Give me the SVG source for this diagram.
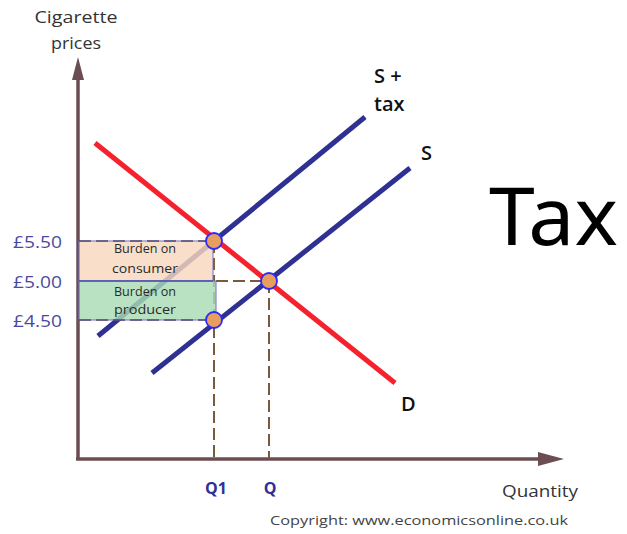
<svg xmlns="http://www.w3.org/2000/svg" width="627" height="534" viewBox="0 0 627 534">
<defs>
<style>
.axis{stroke:#6b4e52;stroke-width:3.5;fill:none}
.dash{stroke:#7a5a3a;stroke-width:2;stroke-dasharray:12,5;fill:none}
.supply{stroke:#2e3192;stroke-width:5;stroke-linecap:butt;fill:none}
.demand{stroke:#f5222d;stroke-width:5;fill:none}
.pt{fill:#e89e5c;stroke:#2a2aff;stroke-width:1.8}
.lbl{font-family:"Open Sans","Noto Sans",sans-serif;fill:#333}
.price{font-family:"Open Sans","Noto Sans",sans-serif;font-size:16.5px;fill:#4a4aa0}
.q{font-family:"Open Sans","Noto Sans",sans-serif;font-size:16px;font-weight:bold;fill:#2e3192}
.curve{font-family:"Open Sans","Noto Sans",sans-serif;font-size:20px;font-weight:600;fill:#111}
.box{font-family:"Open Sans","Noto Sans",sans-serif;font-size:12px;fill:#2a2a2a;text-anchor:middle}
</style>
</defs>
<rect width="627" height="534" fill="#fff"/>
<g id="axes">
<path class="axis" d="M78,459 L78,75"/>
<path d="M72,80 L78,57 L84,80 Z" fill="#6b4e52"/>
<path class="axis" d="M76,459 L545,459"/>
<path d="M538,452 L564,459 L538,466 Z" fill="#6b4e52"/>
<text class="lbl" x="76" y="23" font-size="17" text-anchor="middle" textLength="83" lengthAdjust="spacingAndGlyphs">Cigarette</text>
<text class="lbl" x="76" y="49" font-size="17" text-anchor="middle" textLength="50" lengthAdjust="spacingAndGlyphs">prices</text>
<text class="lbl" x="502" y="497" font-size="17" textLength="76" lengthAdjust="spacingAndGlyphs">Quantity</text>
<text x="270" y="525" font-family="Open Sans, Noto Sans, sans-serif" font-size="13" fill="#444" textLength="298" lengthAdjust="spacingAndGlyphs">Copyright: www.economicsonline.co.uk</text>
</g>
<g id="connectors">
<line class="demand" x1="95" y1="143" x2="395" y2="383"/>
<line class="supply" x1="98" y1="336" x2="365" y2="117"/>
<line class="supply" x1="152" y1="373" x2="410" y2="168"/>
<line class="dash" x1="214" y1="241" x2="214" y2="458"/>
<line class="dash" x1="269" y1="281" x2="269" y2="458"/>
<line class="dash" x1="216" y1="281" x2="269" y2="281"/>
</g>
<g id="burden-consumer">
<rect x="79" y="241" width="134" height="40" fill="#f8d8bd" fill-opacity="0.82" stroke="#6f6fc8" stroke-width="1"/>
<line x1="79" y1="241" x2="213" y2="241" stroke="#554a77" stroke-width="1.3" stroke-dasharray="12,5"/>
<text class="box" x="145" y="253" textLength="62" lengthAdjust="spacingAndGlyphs">Burden on</text>
<text class="box" x="145" y="273" font-size="13" textLength="66" lengthAdjust="spacingAndGlyphs">consumer</text>
</g>
<g id="burden-producer">
<rect x="79" y="281" width="137" height="39" fill="#a8dcb4" fill-opacity="0.82" stroke="#6f6fc8" stroke-width="1"/>
<line x1="79" y1="320" x2="216" y2="320" stroke="#554a77" stroke-width="1.3" stroke-dasharray="12,5"/>
<line x1="79" y1="281" x2="213" y2="281" stroke="#5050b0" stroke-width="1.5"/>
<text class="box" x="145" y="296" textLength="62" lengthAdjust="spacingAndGlyphs">Burden on</text>
<text class="box" x="145" y="314" font-size="13" textLength="62" lengthAdjust="spacingAndGlyphs">producer</text>
</g>
<g id="points">
<circle class="pt" cx="214" cy="241" r="8"/>
<circle class="pt" cx="269" cy="281" r="8"/>
<circle class="pt" cx="214" cy="320" r="8"/>
</g>
<g id="price-labels">
<text class="price" x="13" y="248" textLength="49" lengthAdjust="spacingAndGlyphs">£5.50</text>
<text class="price" x="13" y="288" textLength="49" lengthAdjust="spacingAndGlyphs">£5.00</text>
<text class="price" x="13" y="327" textLength="49" lengthAdjust="spacingAndGlyphs">£4.50</text>
</g>
<g id="q-labels">
<text class="q" x="216" y="494" text-anchor="middle">Q1</text>
<text class="q" x="270" y="494" text-anchor="middle">Q</text>
</g>
<g id="curve-labels">
<text class="curve" x="374" y="83">S +</text>
<text class="curve" x="374" y="111">tax</text>
<text class="curve" x="421" y="160">S</text>
<text class="curve" x="401" y="411">D</text>
</g>
<g id="title">
<text x="489" y="245" font-family="Noto Sans, Open Sans, sans-serif" font-size="80" fill="#000" textLength="129" lengthAdjust="spacingAndGlyphs">Tax</text>
</g>
</svg>
